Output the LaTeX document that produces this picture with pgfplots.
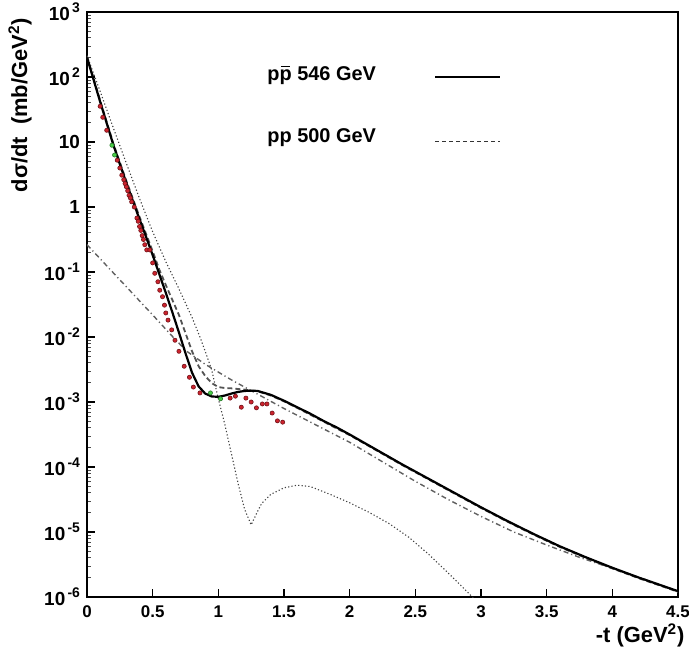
\documentclass[border=0pt]{standalone}
\usepackage{pgfplots}
\pgfplotsset{compat=1.18}
\usepackage{fontspec}
\setmainfont{Liberation Sans}
\definecolor{dotred}{RGB}{205,35,45}
\definecolor{dotgreen}{RGB}{70,205,70}
\newcommand{\tp}[1]{10\hspace{0.12em}\raisebox{0.8ex}{\fontsize{7}{7}\selectfont\bfseries #1}}
\newcommand{\pbar}{\leavevmode\rlap{\hspace{0.06em}\rule[0.64em]{0.48em}{0.07em}}p}
\begin{document}
\begin{tikzpicture}
\path[use as bounding box] (-43.5bp,-25bp) rectangle (301bp,298.5bp);
\begin{axis}[at={(0,0)}, anchor=south west, scale only axis,
  width=295.5bp, height=292.5bp,
  xmin=0, xmax=4.5, ymode=log, ymin=1e-6, ymax=1e3,
  xtick={0,0.5,1,1.5,2,2.5,3,3.5,4,4.5},
  xticklabels={0,0.5,1,1.5,2,2.5,3,3.5,4,4.5},
  ytick={1e-6,1e-5,1e-4,1e-3,1e-2,1e-1,1,10,100,1000},
  yticklabels={\tp{-6},\tp{-5},\tp{-4},\tp{-3},\tp{-2},\tp{-1},1,10,\tp{2},\tp{3}},
  minor ytick={2e-6,3e-6,4e-6,5e-6,6e-6,7e-6,8e-6,9e-6,
    2e-5,3e-5,4e-5,5e-5,6e-5,7e-5,8e-5,9e-5,
    2e-4,3e-4,4e-4,5e-4,6e-4,7e-4,8e-4,9e-4,
    2e-3,3e-3,4e-3,5e-3,6e-3,7e-3,8e-3,9e-3,
    0.02,0.03,0.04,0.05,0.06,0.07,0.08,0.09,
    0.2,0.3,0.4,0.5,0.6,0.7,0.8,0.9,
    2,3,4,5,6,7,8,9,
    20,30,40,50,60,70,80,90,
    200,300,400,500,600,700,800,900},
  tick align=inside, xtick pos=left, ytick pos=left,
  minor x tick num=0,
  major tick length=4bp, minor tick length=2bp,
  tick style={black, line width=0.6bp},
  minor tick style={black!70, line width=0.4bp},
  axis line style={line width=0.8bp},
  xticklabel style={font=\fontsize{8.5}{10}\selectfont\bfseries, yshift=-1bp},
  yticklabel style={font=\fontsize{9.5}{10}\selectfont\bfseries},
  clip mode=individual,
]
% dash-dot background component
\addplot[gray!75!black, line width=0.7bp, dash pattern=on 2.5bp off 1.5bp on 0.6bp off 1.5bp] coordinates {
(0.00,0.263) (0.25,0.07586) (0.50,0.02188) (0.65,0.01023) (0.76,0.006026)
(0.90,0.003802) (1.10,0.002188) (1.30,0.001318) (1.50,7.943e-4) (1.75,4.365e-4)
(2.00,2.399e-4) (2.25,1.202e-4) (2.50,6.026e-5) (2.75,3.162e-5) (3.00,1.738e-5)
(3.25,1.0e-5) (3.50,6.310e-6) (3.75,4.074e-6) (4.00,2.754e-6) (4.25,1.862e-6) (4.50,1.202e-6)};
% dotted (dip) curve
\addplot[black!75, line width=0.55bp, dash pattern=on 0.6bp off 1.1bp] coordinates {
(0.00,213.8) (0.10,60.26) (0.20,16.60) (0.30,4.677) (0.40,1.349) (0.50,0.4169)
(0.60,0.1445) (0.70,0.05495) (0.80,0.01995) (0.86,0.01) (0.90,0.006026) (0.95,0.00309)
(1.00,0.001122) (1.05,4.467e-4) (1.10,1.585e-4) (1.15,5.623e-5) (1.20,2.239e-5)
(1.25,1.288e-5) (1.29,1.905e-5) (1.33,2.754e-5) (1.40,3.802e-5) (1.50,4.786e-5)
(1.60,5.248e-5) (1.70,5.012e-5) (1.85,3.802e-5) (2.00,2.818e-5) (2.15,1.995e-5)
(2.30,1.349e-5) (2.45,8.318e-6) (2.60,4.571e-6) (2.75,2.344e-6) (2.95,9.33e-7)};
% pp 500 GeV (dashed)
\addplot[gray!65!black, line width=0.9bp, dash pattern=on 2.5bp off 1.5bp] coordinates {
(0.00,208.9) (0.10,43.65) (0.20,9.55) (0.30,2.512) (0.40,0.7079) (0.50,0.2089)
(0.55,0.1096) (0.60,0.0631) (0.65,0.03715) (0.70,0.02188) (0.75,0.01148) (0.80,0.006026)
(0.85,0.003548) (0.90,0.002512) (0.95,0.00195) (1.00,0.001698) (1.05,0.001641)
(1.10,0.001622) (1.15,0.001585) (1.20,0.001549) (1.25,0.001496) (1.30,0.001462)
(1.40,0.001259) (1.50,0.001023) (1.60,8.128e-4) (1.80,5.012e-4) (2.00,3.090e-4)
(2.20,1.820e-4) (2.40,1.072e-4) (2.60,6.457e-5) (2.80,3.890e-5) (3.00,2.344e-5)
(3.20,1.445e-5) (3.40,9.120e-6) (3.60,5.888e-6) (3.80,3.981e-6) (4.00,2.754e-6)
(4.20,1.950e-6) (4.40,1.413e-6) (4.50,1.202e-6)};
% p pbar 546 GeV (solid)
\addplot[black, line width=1.1bp] coordinates {
(0.00,199.5) (0.05,91.2) (0.10,41.69) (0.15,19.50) (0.20,9.12) (0.25,4.571)
(0.30,2.344) (0.35,1.230) (0.40,0.6457) (0.45,0.3467) (0.50,0.1820) (0.55,0.09333)
(0.60,0.04786) (0.65,0.02399) (0.70,0.01175) (0.75,0.005623) (0.80,0.002818)
(0.85,0.001738) (0.90,0.001349) (0.95,0.001216) (1.00,0.001202) (1.05,0.001259)
(1.10,0.001349) (1.15,0.001429) (1.20,0.001479) (1.25,0.001496) (1.30,0.001479)
(1.40,0.001288) (1.50,0.001047) (1.60,8.318e-4) (1.70,6.607e-4) (1.80,5.129e-4)
(1.90,4.074e-4) (2.00,3.162e-4) (2.20,1.862e-4) (2.40,1.096e-4) (2.60,6.607e-5)
(2.80,3.981e-5) (3.00,2.399e-5) (3.20,1.479e-5) (3.40,9.333e-6) (3.60,6.026e-6)
(3.80,4.074e-6) (4.00,2.818e-6) (4.20,1.995e-6) (4.40,1.445e-6) (4.50,1.230e-6)};
% data: red
\addplot[only marks, mark=*, mark size=1.05bp, mark options={fill=dotred, draw=dotred!55!black, line width=0.3bp}] coordinates {
(0.10,35.48) (0.12,23.99) (0.15,15.14) (0.23,5.248) (0.25,3.981) (0.265,3.090)
(0.28,2.630) (0.29,2.291) (0.30,2.042) (0.31,1.778) (0.32,1.514) (0.33,1.380)
(0.34,1.202) (0.36,1.0) (0.38,0.6761) (0.39,0.6026) (0.40,0.5012) (0.41,0.4365)
(0.42,0.3631) (0.43,0.3162) (0.44,0.2630) (0.455,0.2188)
(0.478,0.2188) (0.50,0.1380) (0.516,0.09550) (0.54,0.07079) (0.554,0.05248)
(0.575,0.04169) (0.59,0.03090) (0.60,0.02344) (0.617,0.01820) (0.645,0.01288)
(0.67,0.008913) (0.70,0.006026) (0.74,0.003548) (0.78,0.002399) (0.81,0.001698)
(0.86,0.001380)
(1.09,0.001148) (1.13,0.00123) (1.175,8.318e-4) (1.21,0.001148) (1.25,0.001)
(1.29,8.128e-4) (1.335,9.333e-4) (1.37,9.333e-4) (1.41,6.761e-4) (1.45,5.129e-4)
(1.49,4.898e-4)};
% data: green
\addplot[only marks, mark=*, mark size=1.05bp, mark options={fill=dotgreen, draw=dotgreen!60!black, line width=0.3bp}] coordinates {
(0.19,8.91) (0.21,6.31) (0.94,0.00138) (1.017,0.001122)};
% labels
\node[rotate=90, font=\fontsize{11}{12}\selectfont\bfseries] at (rel axis cs:-0.1134,0.841) {dσ/dt~~(mb/GeV\textsuperscript{2})};
\node[font=\fontsize{11}{12}\selectfont\bfseries, inner sep=1pt] at (rel axis cs:0.936,0) [yshift=-19bp] {-t (GeV\textsuperscript{2})};
% legend
\node[anchor=west, inner sep=0pt, font=\fontsize{10}{12}\selectfont\bfseries] at (rel axis cs:0.3046,0.892) {p\pbar\ 546 GeV};
\node[anchor=west, inner sep=0pt, font=\fontsize{10}{12}\selectfont\bfseries] at (rel axis cs:0.3046,0.786) {pp 500 GeV};
\draw[black, line width=1bp] (rel axis cs:0.589,0.889) -- (rel axis cs:0.699,0.889);
\draw[black!80, line width=0.6bp, dash pattern=on 2bp off 1.5bp] (rel axis cs:0.589,0.778) -- (rel axis cs:0.699,0.778);
\end{axis}
\end{tikzpicture}
\end{document}
